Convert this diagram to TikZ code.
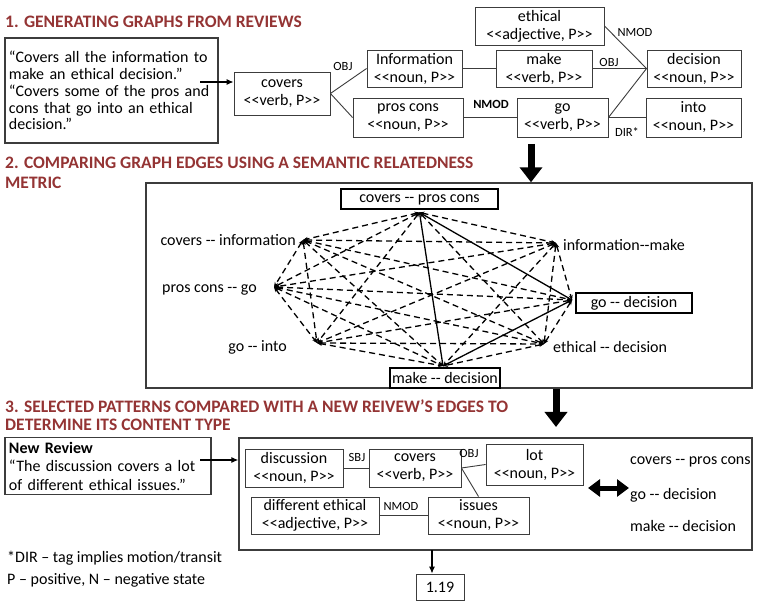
\documentclass[tikz,border=0pt]{standalone}
\usepackage{fontspec}
\setmainfont{Carlito}
\usetikzlibrary{arrows.meta, positioning, calc}
\definecolor{headred}{RGB}{148, 52, 52}
\definecolor{edgegray}{RGB}{60, 60, 60}
\newcommand{\postag}[1]{<{}<#1>{}>}

\begin{document}
\begin{tikzpicture}[x=1pt, y=-1pt,
  every node/.style={font=\fontsize{16}{18}\selectfont},
  head/.style={anchor=west, text=headred, inner sep=0pt, align=left, font=\fontsize{17.5}{20}\selectfont\bfseries},
  tag/.style={draw=edgegray, line width=0.9pt, align=center, inner sep=0.5pt, minimum height=37pt},
  quotebox/.style={draw=edgegray, line width=1.3pt, align=left, inner sep=4pt},
  frame/.style={draw=edgegray, line width=1.4pt, inner sep=0pt},
  pair/.style={inner sep=1pt},
  pairbox/.style={draw=black, line width=2pt, inner sep=1pt, minimum height=20pt},
  rel/.style={inner sep=0pt, font=\fontsize{12.5}{14}\selectfont},
  link/.style={draw=edgegray, line width=0.9pt},
  ptr/.style={-{Latex[length=7pt, width=6pt]}, line width=1.1pt},
  bigarrow/.style={-{Triangle[length=15pt, width=22pt]}, line width=7pt},
  dblarrow/.style={{Triangle[length=12pt, width=17pt]}-{Triangle[length=12pt, width=17pt]}, line width=5pt},
  sim/.style={{Stealth[length=5pt, width=4pt]}-{Stealth[length=5pt, width=4pt]}, line width=1.3pt, dash pattern=on 6pt off 4pt},
  kept/.style={line width=1.3pt},
]
\useasboundingbox (0,0) rectangle (758,601);

% 1. Generating graphs
\node[head] (h1) at (5,22) {1. GENERATING GRAPHS FROM REVIEWS};
\node[quotebox, text width=205pt, minimum height=105pt, font=\fontsize{16}{16.8}\selectfont] (rev) at (111.5,90.5) {“Covers all the information to\\make an ethical decision.”\\“Covers some of the pros and\\cons that go into an ethical\\decision.”};

\node[tag, minimum width=96pt, minimum height=43pt] (covers) at (282,93.5) {covers\\\postag{verb, P}};
\node[tag, minimum width=95pt] (info) at (414.5,68.5) {Information\\\postag{noun, P}};
\node[tag, minimum width=96pt] (make) at (544,68.5) {make\\\postag{verb, P}};
\node[tag, minimum width=94pt] (dec) at (694,68.5) {decision\\\postag{noun, P}};
\node[tag, minimum width=129pt, minimum height=38pt] (eth) at (539.5,26) {ethical\\\postag{adjective, P}};
\node[tag, minimum width=110pt, minimum height=39pt] (pros) at (408,117.5) {pros cons\\\postag{noun, P}};
\node[tag, minimum width=91pt, minimum height=39pt] (go) at (562.5,117.5) {go\\\postag{verb, P}};
\node[tag, minimum width=95pt, minimum height=39pt] (into) at (693.5,117.5) {into\\\postag{noun, P}};

\coordinate (revout) at (200,82);
\draw[ptr] (revout) -- (revout -| covers.west);
\draw[link] (covers.east) -- (info.west);
\draw[link] (covers.east) -- (pros.west);
\draw[link] (info.east) -- (make.west);
\draw[link] (make.east) -- (dec.west);
\draw[link] (eth.east) -- (dec.west);
\draw[link] (go.east) -- (dec.west);
\draw[link] (go.east) -- (into.west);
\draw[link] (pros.east) -- (go.west);
\node[rel] (r1) at (343,66) {OBJ};
\node[rel] (r2) at (609,62) {OBJ};
\node[rel] (r3) at (635,32) {NMOD};
\node[rel, font=\fontsize{12.5}{14}\selectfont\bfseries] (r4) at (491,104) {NMOD};
\node[rel] (r5) at (627,132) {DIR*};

% 2. Comparing edges
\node[head] (h2) at (5,173) {2. COMPARING GRAPH EDGES USING A SEMANTIC RELATEDNESS\\METRIC};
\node[frame, minimum width=606pt, minimum height=205pt] (cmp) at (449,285.5) {};
\coordinate (down1) at (531,144);
\draw[bigarrow] (down1) -- (down1 |- cmp.north);

\node[pairbox, minimum width=157pt] (pA) at (419.5,199.5) {covers -{}- pros cons};
\node[pair, anchor=east] (pB) at (297,240) {covers -{}- information};
\node[pair, anchor=west] (pC) at (562,245) {information-{}-make};
\node[pair, anchor=east] (pD) at (258,290) {pros cons -{}- go};
\node[pairbox, minimum width=116pt] (pE) at (634,303) {go -{}- decision};
\node[pair, anchor=east] (pF) at (288,347) {go -{}- into};
\node[pair, anchor=west] (pG) at (552,347) {ethical -{}- decision};
\node[pairbox, minimum width=110pt] (pH) at (445,378) {make -{}- decision};

\coordinate (hA) at ($(pA.south)+(0,2)$);
\coordinate (hB) at ($(pB.east)+(6,0)$);
\coordinate (hC) at ($(pC.west)+(-6,-2)$);
\coordinate (hD) at ($(pD.east)+(16,-3)$);
\coordinate (hE) at ($(pE.west)+(-3,-3)$);
\coordinate (hF) at ($(pF.east)+(29,-4)$);
\coordinate (hG) at ($(pG.west)+(-8,-3)$);
\coordinate (hH) at ($(pH.north)+(-2,-1)$);

\draw[kept] (hA) -- (hH);
\draw[kept] (hA) -- (hE);
\draw[kept] (hE) -- (hH);
\foreach \i/\j in {A/B, A/C, A/D, A/F, A/G, B/C, B/D, B/E, B/F, B/G, B/H, C/D, C/E, C/F, C/G, C/H, D/E, D/F, D/G, D/H, E/F, E/G, F/G, F/H, G/H}
  \draw[sim] (h\i) -- (h\j);

% 3. New review
\node[head, font=\fontsize{17.5}{18}\selectfont\bfseries] (h3) at (5,415.5) {3. SELECTED PATTERNS COMPARED WITH A NEW REIVEW’S EDGES TO\\DETERMINE ITS CONTENT TYPE};
\node[frame, minimum width=513pt, minimum height=112pt] (newg) at (495.5,494) {};
\coordinate (down2) at (556,389);
\coordinate (down2end) at (556,427);
\draw[bigarrow] (down2) -- (down2end);

\node[quotebox, text width=198pt, minimum height=57pt, font=\fontsize{16}{18.5}\selectfont] (newrev) at (108,466) {\textbf{New Review}\\“The discussion covers a lot\\of different ethical issues.”};
\coordinate (newout) at (200,460);
\draw[ptr] (newout) -- (newout -| newg.west);

\node[tag, minimum width=98pt, minimum height=38pt] (disc) at (294,468) {discussion\\\postag{noun, P}};
\node[tag, minimum width=92pt, minimum height=38pt] (cov2) at (415,468) {covers\\\postag{verb, P}};
\node[tag, minimum width=97pt, minimum height=41pt] (lot) at (534.5,464.5) {lot\\\postag{noun, P}};
\node[tag, minimum width=128pt] (diff) at (315,515.5) {different ethical\\\postag{adjective, P}};
\node[tag, minimum width=101pt] (iss) at (478.5,515.5) {issues\\\postag{noun, P}};
\draw[link] (disc.east) -- (cov2.west);
\draw[link] (cov2.east) -- (lot.west);
\draw[link] (cov2.east) -- (iss.north);
\draw[link] (diff.east) -- (iss.west);
\node[rel] (r6) at (357,457) {SBJ};
\node[rel] (r7) at (469,453) {OBJ};
\node[rel] (r8) at (401,506) {NMOD};

\node[pair, anchor=west] (m1) at (629,462) {covers -{}- pros cons};
\node[pair, anchor=west] (m2) at (629,495) {go -{}- decision};
\node[pair, anchor=west] (m3) at (629,526) {make -{}- decision};
\coordinate (dl) at (588,488);
\draw[dblarrow] (dl) -- (m2.west |- dl);

\node[tag, minimum width=48pt, minimum height=26pt] (score) at (440,587) {1.19};
\coordinate (scorein) at (432,550);
\draw[ptr] (scorein) -- (scorein |- score.north);

% Footnote
\node[pair, anchor=west] (fn1) at (6,558) {*DIR – tag implies motion/transit};
\node[pair, anchor=west] (fn2) at (6,580) {P – positive, N – negative state};
\end{tikzpicture}
\end{document}
